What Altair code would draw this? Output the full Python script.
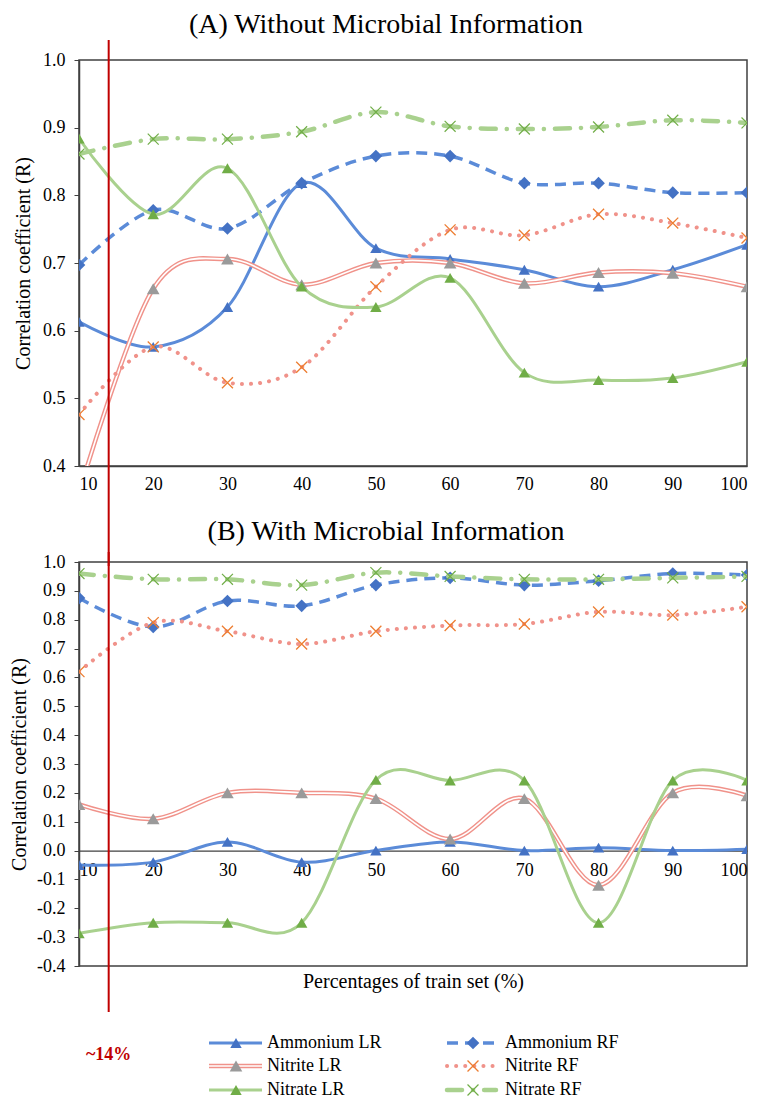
import altair as alt
import pandas as pd

# ---------------- data ----------------
pct = [10, 20, 30, 40, 50, 60, 70, 80, 90, 100]
series_names = ["Ammonium LR", "Ammonium RF", "Nitrite LR", "Nitrite RF", "Nitrate LR", "Nitrate RF"]

# (A) Without Microbial Information
amm_lr_a = [0.613, 0.576, 0.635, 0.818, 0.722, 0.706, 0.690, 0.665, 0.690, 0.727]
amm_rf_a = [0.697, 0.778, 0.751, 0.818, 0.858, 0.858, 0.818, 0.818, 0.804, 0.804]
nitrite_lr_a = [0.36, 0.662, 0.706, 0.668, 0.700, 0.700, 0.670, 0.686, 0.685, 0.665]
nitrite_rf_a = [0.476, 0.576, 0.523, 0.546, 0.665, 0.749, 0.741, 0.772, 0.759, 0.737]
nitrate_lr_a = [0.884, 0.772, 0.840, 0.665, 0.635, 0.678, 0.538, 0.527, 0.530, 0.554]
nitrate_rf_a = [0.861, 0.883, 0.883, 0.894, 0.923, 0.902, 0.898, 0.901, 0.911, 0.907]

# (B) With Microbial Information
amm_lr_b = [-0.05, -0.04, 0.03, -0.04, 0.00, 0.03, 0.00, 0.01, 0.00, 0.005]
amm_rf_b = [0.875, 0.775, 0.865, 0.848, 0.920, 0.945, 0.920, 0.935, 0.960, 0.955]
nitrite_lr_b = [0.16, 0.11, 0.20, 0.20, 0.18, 0.04, 0.18, -0.12, 0.20, 0.19]
nitrite_rf_b = [0.62, 0.79, 0.76, 0.716, 0.76, 0.78, 0.785, 0.827, 0.816, 0.845]
nitrate_lr_b = [-0.287, -0.25, -0.25, -0.25, 0.245, 0.243, 0.243, -0.25, 0.243, 0.243]
nitrate_rf_b = [0.96, 0.94, 0.94, 0.92, 0.963, 0.95, 0.94, 0.94, 0.945, 0.95]

cut_pct = [14]
cut_label = ["~14%"]

yticks_a = [0.4, 0.5, 0.6, 0.7, 0.8, 0.9, 1.0]
yticks_b = [-0.4, -0.3, -0.2, -0.1, 0.0, 0.1, 0.2, 0.3, 0.4, 0.5, 0.6, 0.7, 0.8, 0.9, 1.0]


def long_df(vals):
    rows = []
    for name, v in zip(series_names, vals):
        for p, r in zip(pct, v):
            rows.append({"series": name, "pct": p, "r": r})
    return pd.DataFrame(rows)


df_a = long_df([amm_lr_a, amm_rf_a, nitrite_lr_a, nitrite_rf_a, nitrate_lr_a, nitrate_rf_a])
df_b = long_df([amm_lr_b, amm_rf_b, nitrite_lr_b, nitrite_rf_b, nitrate_lr_b, nitrate_rf_b])
cut_df = pd.DataFrame({"cut": cut_pct, "label": cut_label})

# ---------------- styles ----------------
FONT = "Liberation Serif"
FRAME = "#404040"
X_PATH = "M-1,-1L1,1M-1,1L1,-1"
BLUE_L, BLUE_M = "#5B8BD8", "#4472C4"
SALMON = "#F0928A"
GRAY_M = "#9A9A9A"
ORANGE_M = "#ED7D31"
GREEN_L, GREEN_M = "#A9D18E", "#70AD47"

STYLE = {
    "Ammonium LR": dict(lines=[dict(color=BLUE_L, strokeWidth=3)],
                        mark=dict(shape="triangle-up", filled=True, size=130, color=BLUE_M)),
    "Ammonium RF": dict(lines=[dict(color=BLUE_L, strokeWidth=3.5, strokeDash=[11, 7])],
                        mark=dict(shape="diamond", filled=True, size=160, color=BLUE_M)),
    "Nitrite LR": dict(lines=[dict(color=SALMON, strokeWidth=4.5), dict(color="white", strokeWidth=1.6)],
                       mark=dict(shape="triangle-up", filled=True, size=160, color=GRAY_M)),
    "Nitrite RF": dict(lines=[dict(color=SALMON, strokeWidth=4, strokeDash=[0.1, 9], strokeCap="round")],
                       mark=dict(shape=X_PATH, filled=False, size=120, color=ORANGE_M, strokeWidth=1.3)),
    "Nitrate LR": dict(lines=[dict(color=GREEN_L, strokeWidth=3)],
                       mark=dict(shape="triangle-up", filled=True, size=130, color=GREEN_M)),
    "Nitrate RF": dict(lines=[dict(color=GREEN_L, strokeWidth=4.5, strokeDash=[15, 11, 0.1, 11], strokeCap="round")],
                       mark=dict(shape=X_PATH, filled=False, size=120, color=GREEN_M, strokeWidth=1.2)),
}


def series_layers(df, name, xenc, yenc):
    st = STYLE[name]
    out = []
    for ls in st["lines"]:
        out.append(
            alt.Chart(df).transform_filter(alt.datum.series == name)
            .mark_line(interpolate="cardinal", tension=0, clip=True, **ls)
            .encode(x=xenc, y=yenc)
        )
    out.append(
        alt.Chart(df).transform_filter(alt.datum.series == name)
        .mark_point(opacity=1, clip=True, **st["mark"])
        .encode(x=xenc, y=yenc)
    )
    return out


W = 668
HA = 406
HB = 404
GAP = 96

LAB = 18
TIT = 20

xscale = alt.Scale(domain=[10, 100], nice=False, zero=False)

common_axis = dict(grid=False, labelFont=FONT, labelFontSize=LAB, labelColor="black",
                   titleFont=FONT, titleFontSize=TIT, titleFontWeight="normal", titleColor="black",
                   domainColor=FRAME, tickColor=FRAME)

# ---------------- panel A ----------------
xaxis_a = alt.Axis(values=pct, ticks=False, labelPadding=9, title=None, domainWidth=1.5, **common_axis)
xenc_a = alt.X("pct:Q", scale=xscale, axis=xaxis_a)
yenc_a = alt.Y("r:Q", scale=alt.Scale(domain=[0.4, 1.0], nice=False, zero=False),
               axis=alt.Axis(values=yticks_a, format=".1f", tickSize=5, labelPadding=9, titlePadding=9,
                             title="Correlation coefficient (R)", domainWidth=1.5, **common_axis))

layers_a = []
for nm in series_names:
    layers_a += series_layers(df_a, nm, xenc_a, yenc_a)

rule_a = alt.Chart(cut_df).mark_rule(color="#C00000", strokeWidth=2, clip=False).encode(
    x=alt.X("cut:Q", scale=xscale, axis=xaxis_a), y=alt.value(-20), y2=alt.value(HA + GAP + 4))

panel_a = alt.layer(*layers_a, rule_a).properties(
    width=W, height=HA,
    title=alt.TitleParams("(A) Without Microbial Information", font=FONT, fontSize=28,
                          fontWeight="normal", color="black", anchor="middle", dx=-27, offset=0),
    view=alt.ViewBackground(stroke=FRAME, strokeWidth=1.5),
)

# ---------------- panel B ----------------
zero_offset = -(HB * 0.4 / 1.4)
xaxis_b = alt.Axis(values=pct, ticks=False, labelPadding=11, offset=zero_offset,
                   title="Percentages of train set (%)", titleY=131, titleBaseline="middle",
                   domainWidth=1.2, **common_axis)
xenc_b = alt.X("pct:Q", scale=xscale, axis=xaxis_b)
yenc_b = alt.Y("r:Q", scale=alt.Scale(domain=[-0.4, 1.0], nice=False, zero=False),
               axis=alt.Axis(values=yticks_b, tickSize=5, labelPadding=9, titlePadding=7,
                             labelExpr="(datum.value < 0 ? '-' : '') + format(abs(datum.value), '.1f')",
                             title="Correlation coefficient (R)", domainWidth=1.5, **common_axis))

layers_b = []
for nm in series_names:
    layers_b += series_layers(df_b, nm, xenc_b, yenc_b)

rule_b = alt.Chart(cut_df).mark_rule(color="#C00000", strokeWidth=2, clip=False).encode(
    x=alt.X("cut:Q", scale=xscale, axis=xaxis_b), y=alt.value(-10), y2=alt.value(HB + 46))
cut_text = alt.Chart(cut_df).mark_text(color="#C00000", fontWeight="bold", fontSize=18, font=FONT,
                                       clip=False, baseline="middle").encode(
    x=alt.X("cut:Q", scale=xscale, axis=xaxis_b), y=alt.value(HB + 89), text="label:N")

panel_b = alt.layer(*layers_b, rule_b, cut_text).properties(
    width=W, height=HB,
    title=alt.TitleParams("(B) With Microbial Information", font=FONT, fontSize=28,
                          fontWeight="normal", color="black", anchor="middle", dx=-27, offset=5),
    view=alt.ViewBackground(stroke=FRAME, strokeWidth=1.5),
)

# ---------------- custom legend ----------------
# legend panel top sits GAP px under panel B; rows are placed relative to that
leg_col = [0, 1, 0, 1, 0, 1]
leg_row = [0, 0, 1, 1, 2, 2]
col_x0 = [130, 368]
col_x1 = [183, 417]
col_xm = [157, 394]
col_xt = [188, 426]
row_y = [77 - GAP, 100 - GAP, 124 - GAP]

legend_layers = []
for nm, c, r in zip(series_names, leg_col, leg_row):
    st = STYLE[nm]
    ldf = pd.DataFrame({"px": [col_x0[c], col_x1[c]], "py": [row_y[r], row_y[r]]})
    mdf = pd.DataFrame({"px": [col_xm[c]], "py": [row_y[r]]})
    tdf = pd.DataFrame({"px": [col_xt[c]], "py": [row_y[r]], "t": [nm]})
    xl = alt.X("px:Q", scale=None, axis=None)
    yl = alt.Y("py:Q", scale=None, axis=None)
    for ls in st["lines"]:
        legend_layers.append(alt.Chart(ldf).mark_line(clip=False, **ls).encode(x=xl, y=yl))
    legend_layers.append(alt.Chart(mdf).mark_point(opacity=1, clip=False, **st["mark"]).encode(x=xl, y=yl))
    legend_layers.append(alt.Chart(tdf).mark_text(align="left", baseline="middle", font=FONT, fontSize=18,
                                                  color="black", clip=False).encode(x=xl, y=yl, text="t:N"))

legend = alt.layer(*legend_layers).properties(
    width=W, height=30, view=alt.ViewBackground(stroke="transparent"))

chart = alt.vconcat(panel_a, panel_b, legend, spacing=GAP, bounds="flush").properties(
    padding={"left": 0, "top": 2, "right": 0, "bottom": 0}
).configure(font=FONT).configure_axis(labelFont=FONT, titleFont=FONT)

chart.save("out.html", embed_options={"renderer": "svg", "actions": False})
